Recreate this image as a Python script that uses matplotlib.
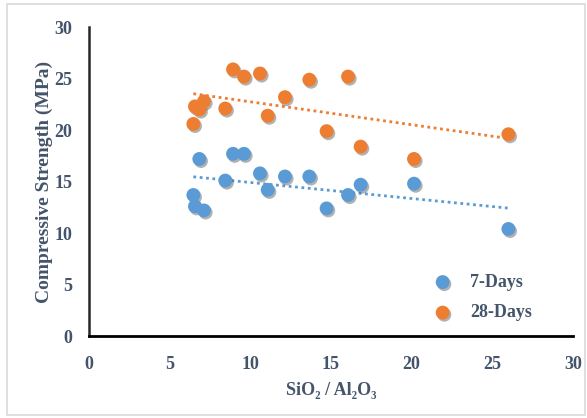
import numpy as np
import matplotlib
matplotlib.use('Agg')
import matplotlib.pyplot as plt
import matplotlib.patheffects as pe
from matplotlib.patches import Rectangle

# SiO2/Al2O3 ratio for each mix
ratio = [6.47, 6.57, 6.84, 7.13, 8.45, 8.93, 9.61, 10.6, 11.08, 12.15,
         13.66, 14.73, 16.06, 16.84, 20.15, 26.0]

# compressive strength (MPa)
strength_7d = [13.7, 12.6, 17.2, 12.2, 15.1, 17.7, 17.7, 15.8, 14.2, 15.5,
               15.5, 12.4, 13.7, 14.7, 14.8, 10.4]
strength_28d = [20.6, 22.3, 22.0, 22.8, 22.1, 25.9, 25.2, 25.5, 21.4, 23.2,
                24.9, 19.9, 25.2, 18.4, 17.2, 19.6]

labels = ['7-Days', '28-Days']
colors = ['#5B9BD5', '#ED7D31']
text_color = '#44546A'

plt.rcParams['font.family'] = ['Liberation Serif', 'DejaVu Serif']
plt.rcParams['font.weight'] = 'bold'

fig = plt.figure(figsize=(5.87, 4.18), dpi=100)
ax = fig.add_axes([0.1516, 0.196, 0.8244, 0.739])

shadow = [pe.SimplePatchShadow(offset=(1.2, -1.5), shadow_rgbFace='#555555', alpha=0.45),
          pe.Normal()]

x = np.array(ratio)
for ys, lab, col in zip([strength_7d, strength_28d], labels, colors):
    ys = np.array(ys)
    sc = ax.scatter(x, ys, s=100, color=col, label=lab, zorder=3, linewidths=0)
    sc.set_path_effects(shadow)
    # linear trend line (like Excel)
    k, b = np.polyfit(x, ys, 1)
    xx = np.array([x.min(), x.max()])
    ax.plot(xx, k * xx + b, linestyle=(0, (1, 1.3)), color=col, lw=2, zorder=2)

ax.set_xlim(0, 30)
ax.set_ylim(0, 30)
ax.set_xticks(range(0, 31, 5))
ax.set_yticks(range(0, 31, 5))
ax.tick_params(length=0, labelsize=13, labelcolor=text_color)
ax.tick_params(axis='y', pad=12)
ax.tick_params(axis='x', pad=14)

for s in ['top', 'right']:
    ax.spines[s].set_visible(False)
ax.spines['left'].set_color('#262626')
ax.spines['left'].set_linewidth(1.8)
ax.spines['bottom'].set_color('black')
ax.spines['bottom'].set_linewidth(2)

ax.set_xlabel('SiO\u2082 / Al\u2082O\u2083', fontsize=13, color=text_color, labelpad=7, fontweight='bold')
ax.set_ylabel('Compressive Strength (MPa)', fontsize=14, color=text_color, labelpad=1, fontweight='bold')

leg = ax.legend(loc='lower left', bbox_to_anchor=(0.66, -0.005), frameon=False,
                fontsize=13, handletextpad=0.5, labelspacing=0.75, markerscale=1.0)
for t in leg.get_texts():
    t.set_color(text_color)

fig.patches.append(Rectangle((0.012, 0.008), 0.984, 0.982, transform=fig.transFigure,
                             fill=False, edgecolor='#D9D9D9', lw=1.2))

fig.savefig('out.png', dpi=100)
